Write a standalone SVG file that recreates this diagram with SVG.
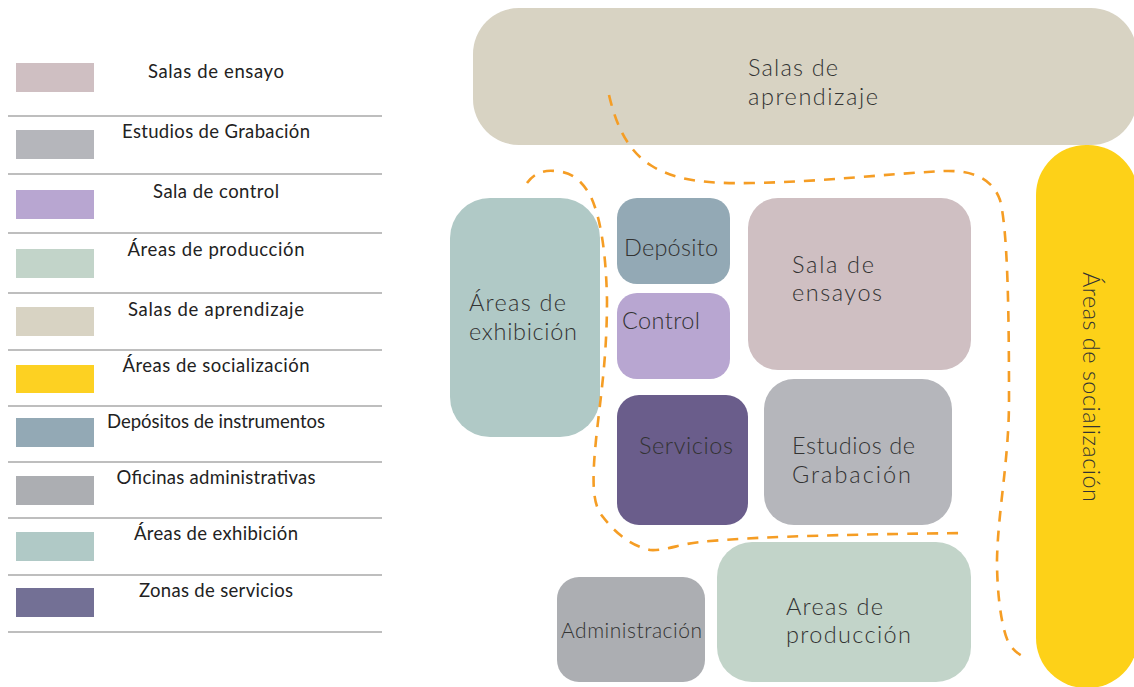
<svg xmlns="http://www.w3.org/2000/svg" width="1134" height="687" viewBox="0 0 1134 687">
<style>
.lg{font-family:Lato,"Liberation Sans",sans-serif;font-size:18.5px;fill:#222;text-anchor:middle}
.sep{stroke:#a9a9a9;stroke-width:1.5}
.nt{font-family:Lato,"Liberation Sans",sans-serif;font-weight:300;font-size:23.5px;fill:#333}
.dash{fill:none;stroke:#f59d24;stroke-width:2.6;stroke-dasharray:11 9}
</style>
<rect width="1134" height="687" fill="#fff"/>
<g id="legend">
<rect x="16" y="63" width="78" height="29" fill="#cfbfc2"/>
<text class="lg" x="216" y="78" textLength="136">Salas de ensayo</text>
<line class="sep" x1="8" y1="116" x2="382" y2="116"/>
<rect x="16" y="130" width="78" height="29" fill="#b5b6bb"/>
<text class="lg" x="216" y="138" textLength="188">Estudios de Grabación</text>
<line class="sep" x1="8" y1="174" x2="382" y2="174"/>
<rect x="16" y="190" width="78" height="29" fill="#b8a6d1"/>
<text class="lg" x="216" y="198" textLength="126">Sala de control</text>
<line class="sep" x1="8" y1="233" x2="382" y2="233"/>
<rect x="16" y="249" width="78" height="29" fill="#c2d4c9"/>
<text class="lg" x="216" y="256" textLength="177">Áreas de producción</text>
<line class="sep" x1="8" y1="293" x2="382" y2="293"/>
<rect x="16" y="307" width="78" height="29" fill="#d8d3c3"/>
<text class="lg" x="216" y="316" textLength="176">Salas de aprendizaje</text>
<line class="sep" x1="8" y1="350" x2="382" y2="350"/>
<rect x="16" y="365" width="78" height="28" fill="#fdd122"/>
<text class="lg" x="216" y="372" textLength="187">Áreas de socialización</text>
<line class="sep" x1="8" y1="406" x2="382" y2="406"/>
<rect x="16" y="418" width="78" height="29" fill="#93a9b5"/>
<text class="lg" x="216" y="428" textLength="218">Depósitos de instrumentos</text>
<line class="sep" x1="8" y1="462" x2="382" y2="462"/>
<rect x="16" y="476" width="78" height="29" fill="#acaeb2"/>
<text class="lg" x="216" y="484" textLength="199">Oficinas administrativas</text>
<line class="sep" x1="8" y1="518" x2="382" y2="518"/>
<rect x="16" y="532" width="78" height="29" fill="#b0c9c6"/>
<text class="lg" x="216" y="540" textLength="164">Áreas de exhibición</text>
<line class="sep" x1="8" y1="575" x2="382" y2="575"/>
<rect x="16" y="588" width="78" height="29" fill="#737095"/>
<text class="lg" x="216" y="597" textLength="154">Zonas de servicios</text>
<line class="sep" x1="8" y1="632" x2="382" y2="632"/>
</g>
<g id="n-aprendizaje">
<rect x="473" y="8" width="664" height="137" rx="46" fill="#d8d3c3"/>
<text class="nt" x="748" y="76" textLength="90">Salas de</text>
<text class="nt" x="748" y="105" textLength="130">aprendizaje</text>
</g>
<g id="n-socializacion">
<rect x="1036" y="145" width="102" height="543" rx="50" fill="#fdd118"/>
<text class="nt" transform="translate(1083,387) rotate(90)" text-anchor="middle" x="0" y="0" textLength="230">Áreas de socialización</text>
</g>
<g id="n-exhibicion">
<rect x="450" y="198" width="150" height="239" rx="40" fill="#b0c9c6"/>
<text class="nt" x="469" y="311" textLength="97">Áreas de</text>
<text class="nt" x="469" y="340" textLength="108">exhibición</text>
</g>
<g id="n-deposito">
<rect x="617" y="198" width="113" height="86" rx="20" fill="#93a9b5"/>
<text class="nt" x="624" y="256" textLength="94">Depósito</text>
</g>
<g id="n-control">
<rect x="617" y="293" width="113" height="86" rx="20" fill="#b8a6d1"/>
<text class="nt" x="622" y="329" textLength="78">Control</text>
</g>
<g id="n-servicios">
<rect x="617" y="395" width="131" height="130" rx="22" fill="#6a5d8b"/>
<text class="nt" x="639" y="454" textLength="94">Servicios</text>
</g>
<g id="n-ensayos">
<rect x="748" y="198" width="223" height="172" rx="30" fill="#cfbfc2"/>
<text class="nt" x="792" y="273" textLength="82">Sala de</text>
<text class="nt" x="792" y="301" textLength="90">ensayos</text>
</g>
<g id="n-grabacion">
<rect x="764" y="379" width="188" height="146" rx="30" fill="#b5b6bb"/>
<text class="nt" x="792" y="454" textLength="123">Estudios de</text>
<text class="nt" x="792" y="483" textLength="119">Grabación</text>
</g>
<g id="n-administracion">
<rect x="557" y="577" width="148" height="105" rx="22" fill="#acaeb2"/>
<text class="nt" x="561" y="638" style="font-size:21px" textLength="141">Administración</text>
</g>
<g id="n-produccion">
<rect x="717" y="542" width="254" height="140" rx="35" fill="#c2d4c9"/>
<text class="nt" x="786" y="615" textLength="97">Areas de</text>
<text class="nt" x="786" y="643" textLength="125">producción</text>
</g>
<g id="connectors">
<path class="dash" d="M609,95 C616,125 628,152 652,166 C675,180 705,184 752,183 C820,182 885,174 944,171 C975,170 993,180 1000,200 C1008,230 1009,320 1009,400 C1009,460 998,510 997,560 C997,600 1003,635 1010,645 C1015,652 1020,655 1026,658"/>
<path class="dash" d="M527,183 C535,172 545,170 555,171 C570,172 580,178 590,195 C600,215 606,250 607,300 C607,360 600,400 596,440 C592,480 592,505 603,517 C613,530 628,545 650,550 C665,551 680,544 700,542 C740,538 800,535 965,533"/>
</g>
</svg>
